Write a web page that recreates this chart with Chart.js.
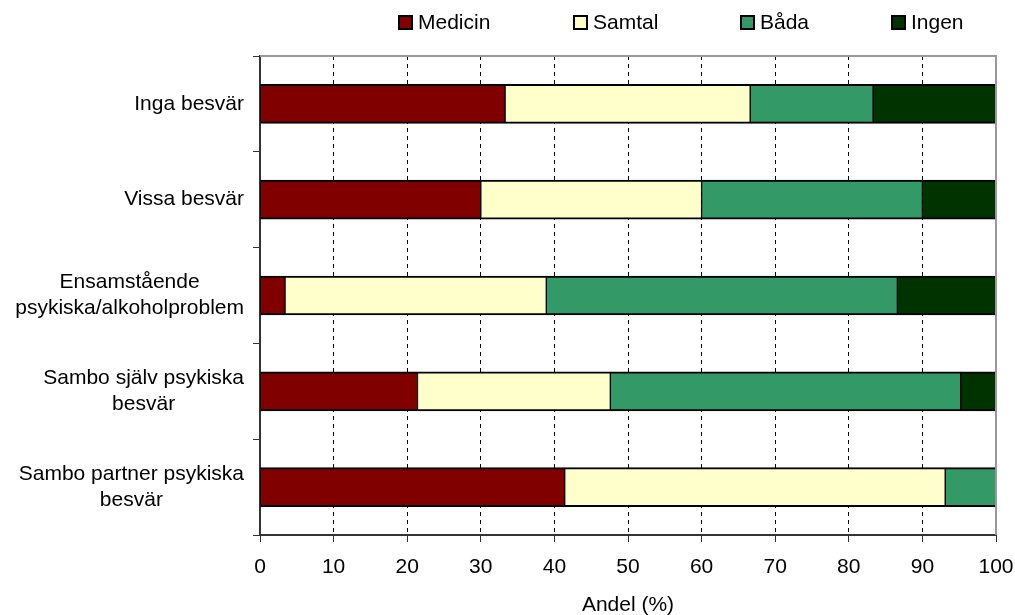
<!DOCTYPE html>
<html>
<head>
<meta charset="utf-8">
<script src="https://cdn.jsdelivr.net/npm/chart.js@4/dist/chart.umd.min.js"></script>
<style>
  html, body { margin: 0; padding: 0; background: #fff; }
  #wrap { position: relative; width: 1015px; height: 615px; }
  #legend { position: absolute; left: 0; top: 0; width: 1015px; height: 44px;
            font-family: "Liberation Sans", Arial, sans-serif; font-size: 21px; color: #000; }
  .lg-item { position: absolute; top: 10px; height: 24px; display: flex; align-items: center; white-space: nowrap; }
  .lg-box { width: 15px; height: 15px; box-sizing: border-box; border: 2px solid #000; margin-right: 5px; }
</style>
</head>
<body>
<div id="wrap">
  <canvas id="c" width="1015" height="615"></canvas>
  <div id="legend"></div>
</div>
<script>
  // Kategorier (y-axeln), flerradiga etiketter som arrayer
  const categories = [
    ["Inga besvär"],
    ["Vissa besvär"],
    ["Ensamstående", "psykiska/alkoholproblem"],
    ["Sambo själv psykiska", "besvär"],
    ["Sambo partner psykiska", "besvär"]
  ];
  const seriesNames = ["Medicin", "Samtal", "Båda", "Ingen"];
  // Andelar i procent
  const medicin = [33.3, 30.0, 3.4, 21.4, 41.4];
  const samtal  = [33.3, 30.0, 35.5, 26.2, 51.7];
  const bada    = [16.7, 30.0, 47.7, 47.6, 6.9];
  const ingen   = [16.7, 10.0, 13.4, 4.8, 0];
  const xTicks  = [0, 10, 20, 30, 40, 50, 60, 70, 80, 90, 100];
  const xTitle  = "Andel (%)";

  const COLORS = ["#800000", "#ffffcc", "#339966", "#003300"];
  const LEGEND_X = [398, 573, 740, 891];
  const FONT = "'Liberation Sans', Arial, sans-serif";

  // HTML-legend
  const legendEl = document.getElementById("legend");
  seriesNames.forEach((name, i) => {
    const item = document.createElement("div");
    item.className = "lg-item";
    item.style.left = LEGEND_X[i] + "px";
    item.innerHTML = `<span class="lg-box" style="background:${COLORS[i]}"></span>${name}`;
    legendEl.appendChild(item);
  });

  // Egna y-etiketter: raderna centrerade mot varandra, blocket högerställt
  const yLabelPlugin = {
    id: "yLabels",
    afterDraw(chart) {
      const ctx = chart.ctx;
      const ys = chart.scales.y;
      ctx.save();
      ctx.font = "21px " + FONT;
      ctx.fillStyle = "#000";
      ctx.textAlign = "center";
      ctx.textBaseline = "middle";
      const lh = 26;
      categories.forEach((lines, i) => {
        const yc = ys.getPixelForValue(i);
        const maxW = Math.max(...lines.map(l => ctx.measureText(l).width));
        const cx = 244 - maxW / 2;
        lines.forEach((l, j) => {
          ctx.fillText(l, cx, yc + (j - (lines.length - 1) / 2) * lh);
        });
      });
      ctx.restore();
    }
  };

  // Grå ram runt ritytan (topp + höger)
  const framePlugin = {
    id: "frame",
    afterDatasetsDraw(chart) {
      const { ctx, chartArea: a } = chart;
      ctx.save();
      ctx.strokeStyle = "#999";
      ctx.lineWidth = 2;
      ctx.beginPath();
      ctx.moveTo(a.left, a.top);
      ctx.lineTo(a.right, a.top);
      ctx.lineTo(a.right, a.bottom);
      ctx.stroke();
      ctx.restore();
    }
  };

  const data = [medicin, samtal, bada, ingen];
  const datasets = seriesNames.map((name, i) => ({
    label: name,
    data: data[i],
    backgroundColor: COLORS[i],
    borderColor: "#000",
    borderWidth: { top: 2, bottom: 2, left: 1, right: 1 },
    borderSkipped: false,
    barThickness: 39
  }));

  new Chart(document.getElementById("c"), {
    type: "bar",
    data: { labels: categories.map(c => c.join(" ")), datasets },
    options: {
      indexAxis: "y",
      responsive: false,
      animation: false,
      layout: { padding: { top: 56, right: 19, left: 0, bottom: 0 } },
      plugins: { legend: { display: false }, tooltip: { enabled: false } },
      scales: {
        x: {
          stacked: true,
          min: 0, max: 100,
          afterBuildTicks: s => { s.ticks = xTicks.map(v => ({ value: v })); },
          afterFit: s => { s.height = 80; s.paddingRight = 0; s.paddingLeft = 0; },
          ticks: { color: "#000", font: { family: FONT, size: 21 }, padding: 13, maxRotation: 0 },
          grid: {
            color: c => (c.tick && (c.tick.value === 0 || c.tick.value === 100)) ? "rgba(0,0,0,0)" : "#000",
            lineWidth: 1,
            tickColor: "#333",
            tickLength: 7,
            tickWidth: 1
          },
          border: { display: true, color: "#333", width: 2, dash: [4, 4] },
          title: { display: true, text: xTitle, color: "#000",
                   font: { family: FONT, size: 21, lineHeight: 1 }, padding: { top: 0, bottom: -1 } }
        },
        y: {
          stacked: true,
          afterFit: s => { s.width = 260; },
          ticks: { display: false },
          grid: { offset: true, drawOnChartArea: false, drawTicks: true,
                  tickLength: 7, tickColor: "#333", tickWidth: 1 },
          border: { display: true, color: "#333", width: 2 }
        }
      }
    },
    plugins: [yLabelPlugin, framePlugin]
  });
</script>
</body>
</html>
